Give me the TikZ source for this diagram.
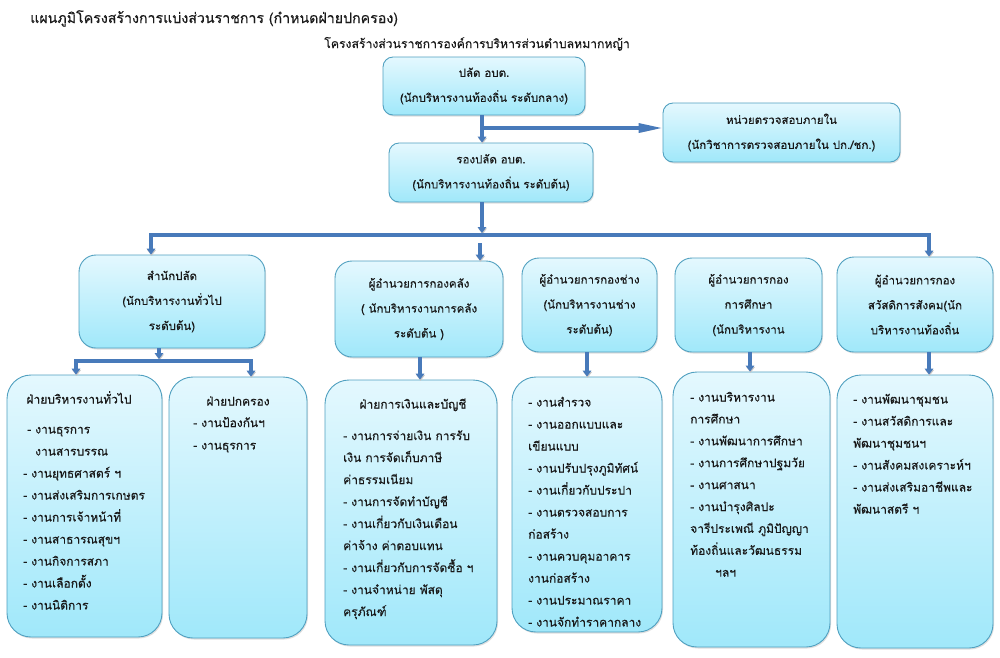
\documentclass[tikz,border=0pt]{standalone}
\usepackage{fontspec}
\setmainfont{Loma}[Script=Thai,FakeBold=0.3]
\usetikzlibrary{arrows.meta,shadows}
\definecolor{boxtop}{RGB}{228,248,254}
\definecolor{boxbot}{RGB}{160,232,250}
\definecolor{boxline}{RGB}{80,160,192}
\definecolor{conncol}{RGB}{72,122,186}
\definecolor{txtcol}{RGB}{25,25,25}
\begin{document}
\begin{tikzpicture}[x=1pt,y=-1pt,
  box/.style={draw=boxline, line width=0.9pt, top color=boxtop, bottom color=boxbot,
    drop shadow={shadow xshift=1pt,shadow yshift=-1.5pt,opacity=0.25},
    align=center, inner sep=0pt, text=txtcol, font=\fontsize{11.5}{25}\selectfont},
  topbox/.style={box, rounded corners=10pt},
  midbox/.style={box, rounded corners=17pt},
  listbox/.style={box, rounded corners=24pt},
  itemtxt/.style={anchor=base west, inner sep=0pt, text=txtcol, font=\fontsize{12}{22}\selectfont},
  headtxt/.style={anchor=base, inner sep=0pt, text=txtcol, font=\fontsize{12}{22}\selectfont},
  arrowend/.style={-{Triangle[length=6pt,width=8.5pt]}},
  arrowboth/.style={{Triangle[length=6pt,width=8.5pt]}-{Triangle[length=6pt,width=8.5pt]}},
  conn/.style={draw=conncol, line width=3.2pt, line join=miter,
    preaction={draw=black!22, transform canvas={xshift=0.6pt,yshift=-1.3pt}}},
]
\fill[white] (0,0) rectangle (1000,657);
\useasboundingbox (0,0) rectangle (1000,657);

% titles
\node[anchor=base west, inner sep=0pt, text=txtcol, font=\fontsize{14.2}{16}\selectfont] (title) at (30,23) {แผนภูมิโครงสร้างการแบ่งส่วนราชการ (กำหนดฝ่ายปกครอง)};
\node[anchor=base, inner sep=0pt, text=txtcol, font=\fontsize{12.2}{14}\selectfont] (sub) at (477,48) {โครงสร้างส่วนราชการองค์การบริหารส่วนตำบลหมากหญ้า};

% top boxes
\node[topbox, minimum width=202pt, minimum height=58pt] (b1) at (484,86) {ปลัด อบต.\\(นักบริหารงานท้องถิ่น ระดับกลาง)};
\node[topbox, minimum width=237pt, minimum height=59pt] (b3) at (781.5,132.5) {หน่วยตรวจสอบภายใน\\(นักวิชาการตรวจสอบภายใน ปก./ชก.)};
\node[topbox, minimum width=204pt, minimum height=59pt] (b2) at (491,172.5) {รองปลัด อบต.\\(นักบริหารงานท้องถิ่น ระดับต้น)};

% level 2
\node[midbox, minimum width=186pt, minimum height=93pt] (L1) at (172,301.5) {สำนักปลัด\\(นักบริหารงานทั่วไป\\ระดับต้น)};
\node[midbox, minimum width=168pt, minimum height=96pt] (L2) at (419,309) {ผู้อำนวยการกองคลัง\\( นักบริหารงานการคลัง\\ระดับต้น )};
\node[midbox, minimum width=135pt, minimum height=94pt] (L3) at (589.5,305) {ผู้อำนวยการกองช่าง\\(นักบริหารงานช่าง\\ระดับต้น)};
\node[midbox, minimum width=147pt, minimum height=94pt] (L4) at (748.5,305) {ผู้อำนวยการกอง\\การศึกษา\\(นักบริหารงาน};
\node[midbox, minimum width=156pt, minimum height=95pt] (L5) at (915,304.5) {ผู้อำนวยการกอง\\สวัสดิการสังคม(นัก\\บริหารงานท้องถิ่น};

% level 3
\node[listbox, minimum width=155pt, minimum height=262pt] (S1) at (84.5,506) {};
\node[listbox, minimum width=138pt, minimum height=261pt] (S2) at (238,507.5) {};
\node[listbox, minimum width=172pt, minimum height=265pt] (S3) at (411,512.5) {};
\node[listbox, minimum width=150pt, minimum height=255pt] (S4) at (587,504.5) {};
\node[listbox, minimum width=157pt, minimum height=275pt] (S5) at (751.5,509.5) {};
\node[listbox, minimum width=156pt, minimum height=273pt] (S6) at (915,511.5) {};

% list texts
\node[headtxt] (s1h) at (79,403.5) {ฝ่ายบริหารงานทั่วไป};
\foreach \dx/\t [count=\i] in {4/{- งานธุรการ}, 12/{งานสารบรรณ}, 0/{- งานยุทธศาสตร์ ฯ}, 0/{- งานส่งเสริมการเกษตร}, 0/{- งานการเจ้าหน้าที่}, 0/{- งานสาธารณสุขฯ}, 0/{- งานกิจการสภา}, 0/{- งานเลือกตั้ง}, 0/{- งานนิติการ}}
  \node[itemtxt] (s1-\i) at (23+\dx,411.5+22*\i) {\t};

\node[headtxt] (s2h) at (238,405.5) {ฝ่ายปกครอง};
\foreach \t [count=\i] in {{- งานป้องกันฯ}, {- งานธุรการ}}
  \node[itemtxt] (s2-\i) at (193,404.5+22.5*\i) {\t};

\node[headtxt] (s3h) at (413,408.5) {ฝ่ายการเงินและบัญชี};
\foreach \t [count=\i] in {{- งานการจ่ายเงิน การรับ}, {เงิน การจัดเก็บภาษี}, {ค่าธรรมเนียม}, {- งานการจัดทำบัญชี}, {- งานเกี่ยวกับเงินเดือน}, {ค่าจ้าง ค่าตอบแทน}, {- งานเกี่ยวกับการจัดซื้อ ฯ}, {- งานจำหน่าย พัสดุ}, {ครุภัณฑ์}}
  \node[itemtxt] (s3-\i) at (343,418+22*\i) {\t};

\foreach \t [count=\i] in {{- งานสำรวจ}, {- งานออกแบบและ}, {เขียนแบบ}, {- งานปรับปรุงภูมิทัศน์}, {- งานเกี่ยวกับประปา}, {- งานตรวจสอบการ}, {ก่อสร้าง}, {- งานควบคุมอาคาร}, {งานก่อสร้าง}, {- งานประมาณราคา}, {- งานจักทำราคากลาง}}
  \node[itemtxt] (s4-\i) at (528,384.5+22*\i) {\t};

\foreach \dx/\t [count=\i] in {0/{- งานบริหารงาน}, 0/{การศึกษา}, 0/{- งานพัฒนาการศึกษา}, 0/{- งานการศึกษาปฐมวัย}, 0/{- งานศาสนา}, 0/{- งานบำรุงศิลปะ}, 0/{จารีประเพณี ภูมิปัญญา}, 0/{ท้องถิ่นและวัฒนธรรม}, 25/{ฯลฯ}}
  \node[itemtxt] (s5-\i) at (690+\dx,379.6+21.9*\i) {\t};

\foreach \t [count=\i] in {{- งานพัฒนาชุมชน}, {- งานสวัสดิการและ}, {พัฒนาชุมชนฯ}, {- งานสังคมสงเคราะห์ฯ}, {- งานส่งเสริมอาชีพและ}, {พัฒนาสตรี ฯ}}
  \node[itemtxt] (s6-\i) at (853,381.5+22*\i) {\t};

% connectors
\coordinate (j1) at (482,128);
\draw[conn,arrowend] (b1.south -| j1) -- (j1 |- b2.north);
\draw[conn,-{Triangle[length=24pt,width=9pt]}] (j1) -- (b3.west |- j1);

\coordinate (j2) at (482,233);
\draw[conn,arrowend] (b2.south -| j2) -- (j2);
\coordinate (bl) at (151,235);
\coordinate (br) at (929,235);
\draw[conn,arrowboth] (L1.north -| bl) -- (bl) -- (br) -- (L5.north -| br);
\coordinate (jm) at (480,243);
\draw[conn,arrowend] (jm) -- (jm |- L2.north);

\coordinate (k1) at (159,359);
\draw[conn,arrowend] (L1.south -| k1) -- (k1);
\coordinate (kl) at (76,361);
\coordinate (kr) at (251,361);
\draw[conn,arrowboth] (S1.north -| kl) -- (kl) -- (kr) -- (S2.north -| kr);

\coordinate (m2) at (420,0);
\coordinate (m3) at (587,0);
\coordinate (m4) at (750,0);
\coordinate (m5) at (929,0);
\draw[conn,arrowend] (L2.south -| m2) -- (S3.north -| m2);
\draw[conn,arrowend] (L3.south -| m3) -- (S4.north -| m3);
\draw[conn,arrowend] (L4.south -| m4) -- (S5.north -| m4);
\draw[conn,arrowend] (L5.south -| m5) -- (S6.north -| m5);
\end{tikzpicture}
\end{document}
